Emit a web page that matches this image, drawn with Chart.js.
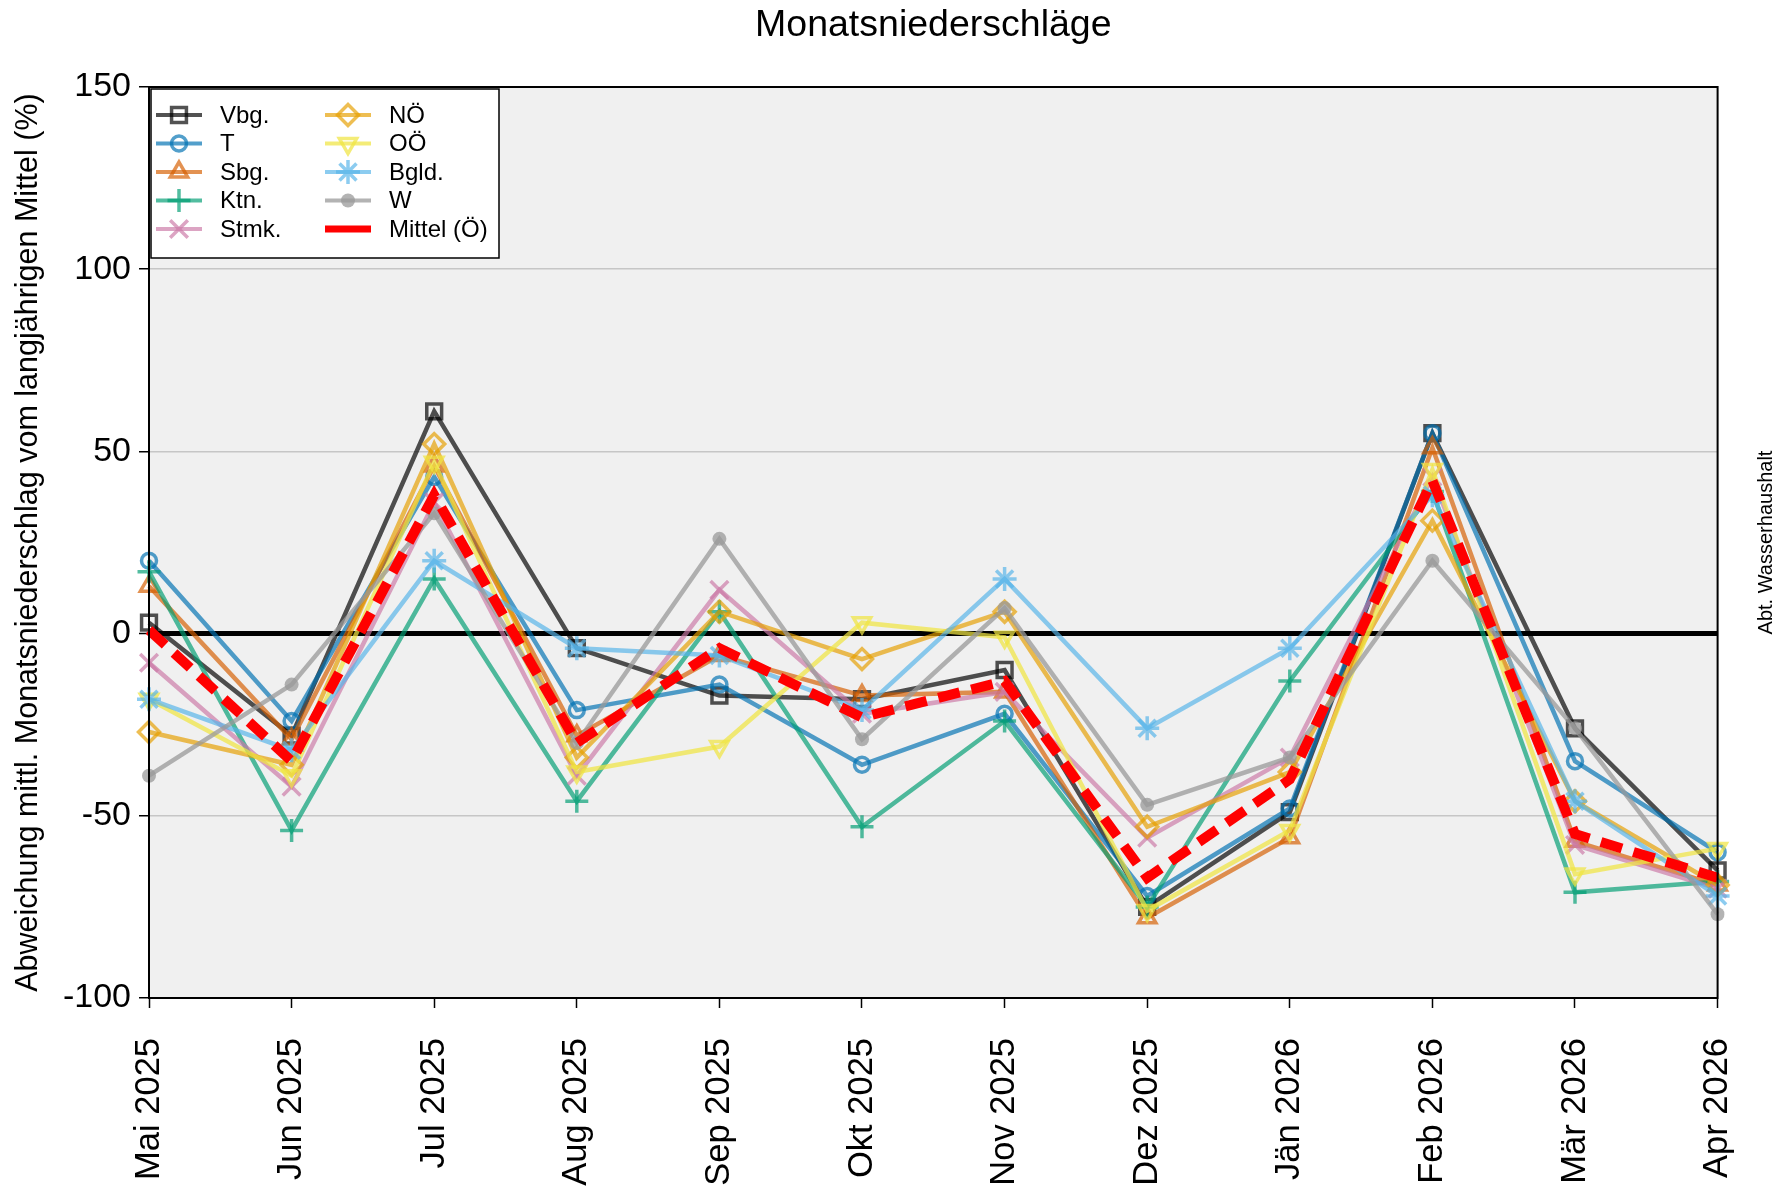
<!DOCTYPE html>
<html>
<head>
<meta charset="utf-8">
<script src="https://cdn.jsdelivr.net/npm/chart.js"></script>
<style>
  html, body { margin: 0; padding: 0; background: white; }
  canvas { display: block; }
</style>
</head>
<body>
<canvas id="plot" width="1789" height="1188"></canvas>
<script>
const months = ["Mai 2025", "Jun 2025", "Jul 2025", "Aug 2025", "Sep 2025", "Okt 2025",
  "Nov 2025", "Dez 2025", "Jän 2026", "Feb 2026", "Mär 2026", "Apr 2026"];

// Abweichung vom langjährigen Mittel in %
const vbg = [3, -28, 61, -4, -17, -18, -10, -75, -49, 55, -26, -65];
const tirol = [20, -24, 43, -21, -14, -36, -22, -72, -48, 55, -35, -60];
const sbg = [13, -29, 46, -28, -6, -17, -16, -78, -56, 51, -57, -69];
const ktn = [17, -54, 15, -46, 6, -53, -24, -75, -13, 39, -71, -68];
const stmk = [-8, -42, 36, -39, 12, -22, -16, -56, -34, 43, -58, -70];
const noe = [-27, -36, 52, -34, 6, -7, 6, -53, -38, 31, -46, -69];
const ooe = [-18, -39, 47, -38, -31, 3, -1, -76, -54, 45, -66, -59];
const bgld = [-18, -32, 20, -4, -6, -21, 15, -26, -4, 38, -46, -72];
const wien = [-39, -14, 33, -30, 26, -29, 7, -47, -34, 20, -26, -77];
const mittel = [1, -35, 38, -30, -4, -23, -13, -67, -40, 42, -55, -67];

const yTicks = [-100, -50, 0, 50, 100, 150];

const FONT = "'Liberation Sans', Arial, sans-serif";

function series(label, data, color, style, radius, extra) {
  return Object.assign({
    label: label,
    data: data,
    borderColor: color,
    backgroundColor: "rgba(0,0,0,0)",
    borderWidth: 4.5,
    pointStyle: style,
    pointRadius: radius,
    pointHoverRadius: radius,
    pointBorderColor: color,
    pointBackgroundColor: "rgba(0,0,0,0)",
    pointBorderWidth: 3.5,
    tension: 0,
  }, extra || {});
}

const datasets = [
  series("Vbg.", vbg, "rgba(0,0,0,0.68)", "rect", 10.5, { order: 9 }),
  series("T", tirol, "rgba(0,114,178,0.68)", "circle", 7.5, { order: 8 }),
  series("Sbg.", sbg, "rgba(213,94,0,0.68)", "triangle", 10, { order: 7 }),
  series("Ktn.", ktn, "rgba(0,158,115,0.68)", "cross", 11.5, { order: 6 }),
  series("Stmk.", stmk, "rgba(204,121,167,0.68)", "crossRot", 12.5, { order: 5 }),
  series("NÖ", noe, "rgba(230,159,0,0.68)", "rectRot", 10.5, { order: 4 }),
  series("OÖ", ooe, "rgba(240,228,66,0.72)", "triangle", 10, { order: 3, pointRotation: 180 }),
  series("Bgld.", bgld, "rgba(86,180,233,0.68)", "star", 12, { order: 2 }),
  series("W", wien, "rgba(153,153,153,0.75)", "circle", 7, {
    order: 1, pointBackgroundColor: "rgba(153,153,153,0.75)", pointBorderWidth: 0,
  }),
  series("Mittel (Ö)", mittel, "#ff0000", "circle", 0, {
    order: 0, borderWidth: 10, borderDash: [22, 12], borderCapStyle: "butt",
  }),
];

const backgroundPlugin = {
  id: "plot_background",
  beforeDraw: (chart) => {
    const ctx = chart.ctx;
    const a = chart.chartArea;
    ctx.save();
    ctx.fillStyle = "white";
    ctx.fillRect(0, 0, chart.width, chart.height);
    ctx.fillStyle = "#f0f0f0";
    ctx.fillRect(a.left, a.top, a.right - a.left, a.bottom - a.top);
    ctx.restore();
  },
};

const decorPlugin = {
  id: "decor",
  afterDraw: (chart) => {
    const ctx = chart.ctx;
    const a = chart.chartArea;
    ctx.save();

    // Rahmen
    ctx.strokeStyle = "black";
    ctx.lineWidth = 2;
    ctx.strokeRect(a.left, a.top, a.right - a.left, a.bottom - a.top);

    // Titel
    ctx.fillStyle = "black";
    ctx.textAlign = "center";
    ctx.textBaseline = "middle";
    ctx.font = "37.5px " + FONT;
    ctx.fillText("Monatsniederschläge", (a.left + a.right) / 2, 26);

    // y-Achsentitel
    ctx.save();
    ctx.translate(29, (a.top + a.bottom) / 2);
    ctx.rotate(-Math.PI / 2);
    ctx.font = "30.5px " + FONT;
    ctx.fillText("Abweichung mittl. Monatsniederschlag vom langjährigen Mittel (%)", 0, 0);
    ctx.restore();

    // Quelle rechts
    ctx.save();
    ctx.translate(1766, (a.top + a.bottom) / 2);
    ctx.rotate(-Math.PI / 2);
    ctx.font = "20px " + FONT;
    ctx.fillText("Abt. Wasserhaushalt", 0, 0);
    ctx.restore();

    // Legende
    const box = { x: a.left + 2, y: a.top + 2, w: 348, h: 169 };
    ctx.fillStyle = "white";
    ctx.fillRect(box.x, box.y, box.w, box.h);
    ctx.strokeStyle = "black";
    ctx.lineWidth = 1.5;
    ctx.strokeRect(box.x, box.y, box.w, box.h);

    const rowH = 28.5;
    const cols = [a.left + 7, a.left + 176];
    ctx.font = "24px " + FONT;
    ctx.textAlign = "left";
    chart.data.datasets.forEach((ds, i) => {
      const col = i < 5 ? 0 : 1;
      const row = i % 5;
      const x0 = cols[col];
      const y = a.top + 28 + row * rowH;
      ctx.save();
      ctx.strokeStyle = ds.borderColor;
      ctx.lineWidth = ds.label === "Mittel (Ö)" ? 7 : 4;
      ctx.beginPath();
      ctx.moveTo(x0, y);
      ctx.lineTo(x0 + 46, y);
      ctx.stroke();
      if (ds.pointRadius > 0 && Chart.helpers && Chart.helpers.drawPoint) {
        ctx.strokeStyle = ds.pointBorderColor;
        ctx.fillStyle = ds.pointBackgroundColor;
        ctx.lineWidth = ds.pointBorderWidth;
        Chart.helpers.drawPoint(ctx, {
          pointStyle: ds.pointStyle,
          rotation: ds.pointRotation || 0,
          radius: ds.pointRadius,
          borderWidth: ds.pointBorderWidth,
        }, x0 + 23, y);
      }
      ctx.restore();
      ctx.fillStyle = "black";
      ctx.fillText(ds.label, x0 + 64, y + 1);
    });

    ctx.restore();
  },
};

const lineChart = {
  type: "line",
  plugins: [backgroundPlugin, decorPlugin],
  data: {
    labels: months,
    datasets: datasets,
  },
  options: {
    responsive: false,
    animation: false,
    devicePixelRatio: 1,
    layout: {
      padding: { left: 0, right: 70, top: 87, bottom: 0 },
    },
    plugins: {
      legend: { display: false },
      title: { display: false },
      tooltip: { enabled: false },
    },
    scales: {
      x: {
        type: "category",
        offset: false,
        afterFit: (scale) => {
          scale.height = 190;
        },
        border: { display: true, color: "black", width: 2 },
        grid: {
          drawOnChartArea: false,
          drawTicks: true,
          tickLength: 10,
          tickColor: "black",
          tickWidth: 1.5,
        },
        ticks: {
          autoSkip: false,
          minRotation: 90,
          maxRotation: 90,
          padding: 30,
          color: "black",
          font: { family: FONT, size: 34.5 },
        },
      },
      y: {
        min: -100,
        max: 150,
        afterFit: (scale) => {
          scale.width = 149;
        },
        afterBuildTicks: (scale) => {
          scale.ticks = yTicks.map((v) => ({ value: v }));
        },
        border: { display: true, color: "black", width: 2 },
        grid: {
          color: (c) => (c.tick && c.tick.value === 0 ? "black" : "#c6c6c6"),
          lineWidth: (c) => (c.tick && c.tick.value === 0 ? 5 : 1.5),
          drawTicks: true,
          tickLength: 10,
          tickColor: "black",
          tickWidth: 1.5,
        },
        ticks: {
          padding: 8,
          color: "black",
          font: { family: FONT, size: 34 },
        },
      },
    },
  },
};

const canvas = document.getElementById("plot");
const ctx = canvas.getContext("2d");
const chart = new Chart(ctx, lineChart);
</script>
</body>
</html>
